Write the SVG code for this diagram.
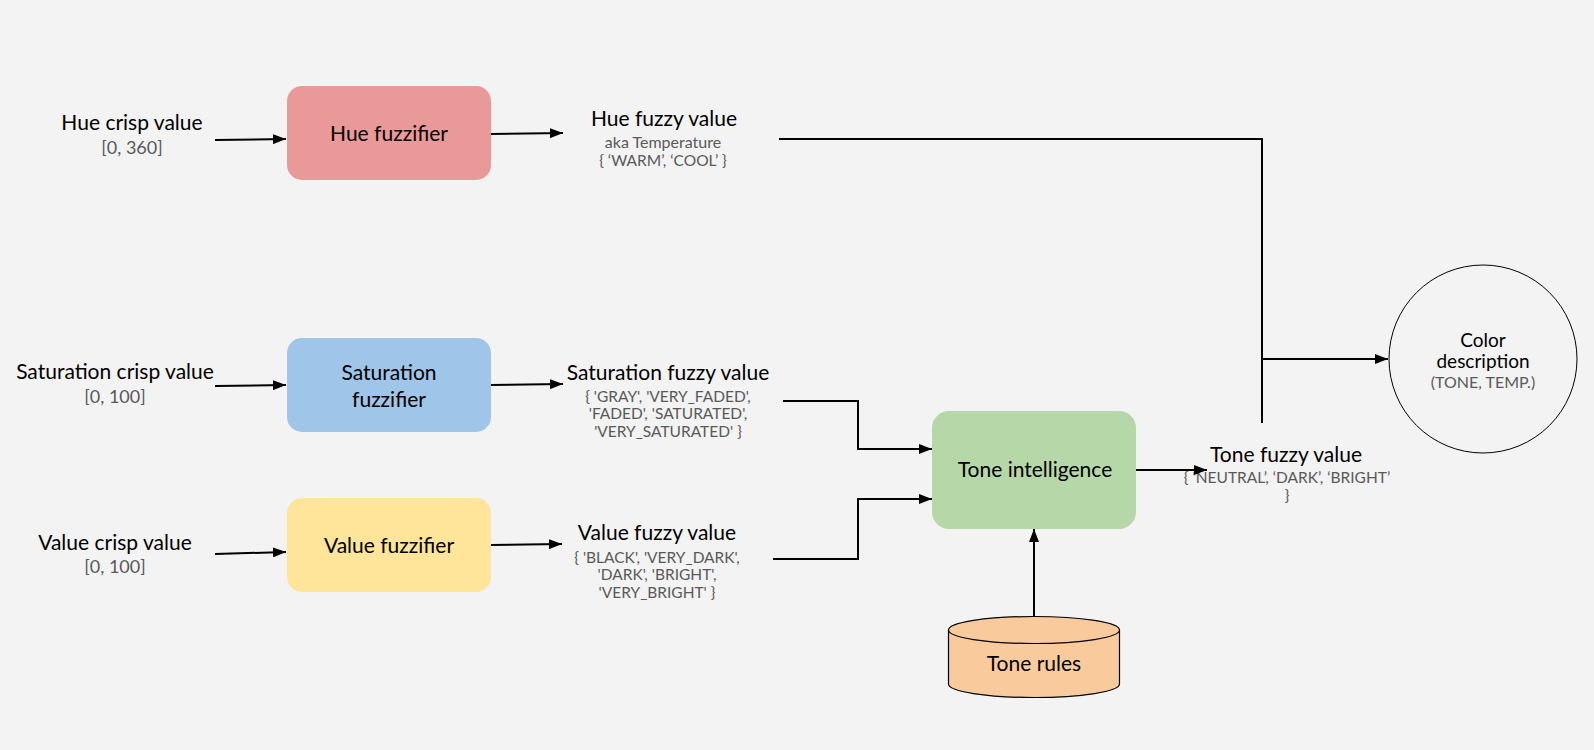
<svg xmlns="http://www.w3.org/2000/svg" width="1594" height="750" viewBox="0 0 1594 750">
<defs>
<marker id="arr" markerUnits="userSpaceOnUse" markerWidth="13" markerHeight="10" refX="13" refY="5" orient="auto">
<path d="M0,0 L13,5 L0,10 z" fill="#000"/>
</marker>
<style>
.lbl{font-family:Lato,"Open Sans","Liberation Sans",sans-serif;font-size:21px;fill:#000;text-anchor:middle}
.sub{font-family:Lato,"Open Sans","Liberation Sans",sans-serif;font-size:15.5px;fill:#595959;text-anchor:middle}
.rng{font-family:Lato,"Open Sans","Liberation Sans",sans-serif;font-size:18px;fill:#595959;text-anchor:middle}
.con{fill:none;stroke:#000;stroke-width:2}
.box{stroke:none}
</style>
</defs>
<rect width="1594" height="750" fill="#f3f3f3"/>

<g id="hue-crisp">
<text class="lbl" x="132" y="130">Hue crisp value</text>
<text class="rng" x="132" y="154">[0, 360]</text>
</g>
<g id="hue-fuzzifier">
<rect class="box" x="287" y="86" width="204" height="94" rx="15" fill="#ea9999"/>
<text class="lbl" x="389" y="141">Hue fuzzifier</text>
</g>
<g id="hue-fuzzy">
<text class="lbl" x="664" y="126">Hue fuzzy value</text>
<text class="sub" x="663" y="148" style="font-size:16px">aka Temperature</text>
<text class="sub" x="663" y="166">{ ‘WARM’, ‘COOL’ }</text>
</g>

<g id="sat-crisp">
<text class="lbl" x="115" y="379">Saturation crisp value</text>
<text class="rng" x="115" y="403">[0, 100]</text>
</g>
<g id="sat-fuzzifier">
<rect class="box" x="287" y="338" width="204" height="94" rx="15" fill="#9fc5e8"/>
<text class="lbl" x="389" y="380">Saturation</text>
<text class="lbl" x="389" y="407">fuzzifier</text>
</g>
<g id="sat-fuzzy">
<text class="lbl" x="668" y="380">Saturation fuzzy value</text>
<text class="sub" x="668" y="402">{ 'GRAY', 'VERY_FADED',</text>
<text class="sub" x="668" y="419">'FADED', 'SATURATED',</text>
<text class="sub" x="668" y="437">'VERY_SATURATED' }</text>
</g>

<g id="val-crisp">
<text class="lbl" x="115" y="550">Value crisp value</text>
<text class="rng" x="115" y="573">[0, 100]</text>
</g>
<g id="val-fuzzifier">
<rect class="box" x="287" y="498" width="204" height="94" rx="15" fill="#ffe599"/>
<text class="lbl" x="389" y="553">Value fuzzifier</text>
</g>
<g id="val-fuzzy">
<text class="lbl" x="657" y="540">Value fuzzy value</text>
<text class="sub" x="657" y="563">{ 'BLACK', 'VERY_DARK',</text>
<text class="sub" x="657" y="580">'DARK', 'BRIGHT',</text>
<text class="sub" x="657" y="598">'VERY_BRIGHT' }</text>
</g>

<g id="tone-intelligence">
<rect class="box" x="932" y="411" width="204" height="118" rx="17" fill="#b6d7a8"/>
<text class="lbl" x="1035" y="477">Tone intelligence</text>
</g>
<g id="tone-rules">
<path d="M948.5,630 V684 A85.5,13.5 0 0 0 1119.5,684 V630" fill="#f9cb9c" stroke="#000" stroke-width="1.2"/>
<ellipse cx="1034" cy="630" rx="85.5" ry="13.5" fill="#f9cb9c" stroke="#000" stroke-width="1.2"/>
<text class="lbl" x="1034" y="671">Tone rules</text>
</g>
<g id="tone-fuzzy">
<text class="lbl" x="1286" y="462">Tone fuzzy value</text>
<text class="sub" x="1287" y="483">{ ‘NEUTRAL’, ‘DARK’, ‘BRIGHT’</text>
<text class="sub" x="1287" y="501">}</text>
</g>
<g id="color-description">
<circle cx="1483" cy="359" r="94" fill="none" stroke="#000" stroke-width="1"/>
<text class="lbl" x="1483" y="347" style="font-size:19px">Color</text>
<text class="lbl" x="1483" y="368" style="font-size:19px">description</text>
<text class="sub" x="1483" y="388" style="font-size:16px">(TONE, TEMP.)</text>
</g>

<g id="connectors">
<path class="con" d="M215,140 L286,139" marker-end="url(#arr)"/>
<path class="con" d="M215,386 L286,385" marker-end="url(#arr)"/>
<path class="con" d="M215,554 L286,552" marker-end="url(#arr)"/>
<path class="con" d="M491,134 L563,133" marker-end="url(#arr)"/>
<path class="con" d="M491,385 L563,384" marker-end="url(#arr)"/>
<path class="con" d="M491,545 L562,544" marker-end="url(#arr)"/>
<path class="con" d="M779,139 H1262 V423"/>
<path class="con" d="M1262,359 H1388" marker-end="url(#arr)"/>
<path class="con" d="M783,401 H858 V449 H932" marker-end="url(#arr)"/>
<path class="con" d="M773,559 H858 V499 H932" marker-end="url(#arr)"/>
<path class="con" d="M1136,470 H1207" marker-end="url(#arr)"/>
<path class="con" d="M1034,616 V529" marker-end="url(#arr)"/>
</g>
</svg>
